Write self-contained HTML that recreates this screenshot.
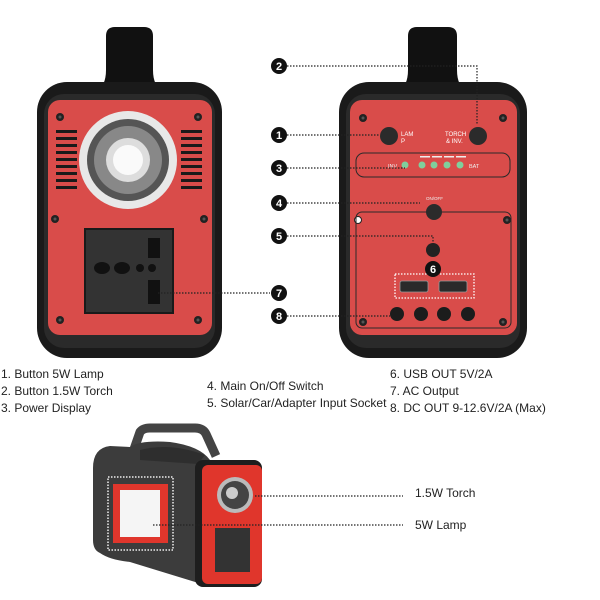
<!DOCTYPE html>
<html><head><meta charset="utf-8"><style>
html,body{margin:0;padding:0;background:#fff;width:600px;height:600px;overflow:hidden}
svg{display:block}
text{font-family:"Liberation Sans",sans-serif}
</style></head><body>
<svg width="600" height="600" viewBox="0 0 600 600" xmlns="http://www.w3.org/2000/svg">
<defs>
<g id="screw"><circle r="4" fill="#222"/><circle r="1.5" fill="#555"/></g>
</defs>
<!-- LEFT DEVICE -->
<path d="M96 92 Q106 86 106 70 V36 Q106 27 115 27 H144 Q153 27 153 36 V70 Q153 86 163 92 Z" fill="#111"/>
<rect x="37" y="82" width="185" height="276" rx="30" fill="#1a1a1a"/>
<rect x="44" y="94" width="171" height="254" rx="20" fill="#2a2a2a"/>
<rect x="48" y="100" width="164" height="235" rx="12" fill="#d94c4a"/>
<g fill="#1a1a1a">
<rect x="56" y="130" width="21" height="3"/><rect x="56" y="137" width="21" height="3"/><rect x="56" y="144" width="21" height="3"/><rect x="56" y="151" width="21" height="3"/><rect x="56" y="158" width="21" height="3"/><rect x="56" y="165" width="21" height="3"/><rect x="56" y="172" width="21" height="3"/><rect x="56" y="179" width="21" height="3"/><rect x="56" y="186" width="21" height="3"/>
<rect x="181" y="130" width="21" height="3"/><rect x="181" y="137" width="21" height="3"/><rect x="181" y="144" width="21" height="3"/><rect x="181" y="151" width="21" height="3"/><rect x="181" y="158" width="21" height="3"/><rect x="181" y="165" width="21" height="3"/><rect x="181" y="172" width="21" height="3"/><rect x="181" y="179" width="21" height="3"/><rect x="181" y="186" width="21" height="3"/>
</g>
<circle cx="128" cy="160" r="49" fill="#e8e8e8"/>
<circle cx="128" cy="160" r="41" fill="#555"/>
<circle cx="128" cy="160" r="34" fill="#888"/>
<circle cx="128" cy="160" r="22" fill="#ddd"/>
<circle cx="128" cy="160" r="15" fill="#fafafa"/>
<use href="#screw" x="60" y="117"/><use href="#screw" x="198" y="117"/><use href="#screw" x="55" y="219"/><use href="#screw" x="204" y="219"/><use href="#screw" x="60" y="320"/><use href="#screw" x="198" y="320"/>
<rect x="85" y="229" width="88" height="84" fill="#333" stroke="#1a1a1a" stroke-width="2"/>
<g fill="#111"><ellipse cx="102" cy="268" rx="8" ry="6"/><ellipse cx="122" cy="268" rx="8" ry="6"/><circle cx="140" cy="268" r="4"/><circle cx="152" cy="268" r="4"/><rect x="148" y="238" width="12" height="20"/><rect x="148" y="280" width="12" height="24"/></g>
<!-- RIGHT DEVICE -->
<path d="M398 92 Q408 86 408 70 V36 Q408 27 417 27 H448 Q457 27 457 36 V70 Q457 86 467 92 Z" fill="#111"/>
<rect x="339" y="82" width="188" height="276" rx="30" fill="#1a1a1a"/>
<rect x="346" y="94" width="174" height="254" rx="20" fill="#2a2a2a"/>
<rect x="350" y="100" width="167" height="235" rx="12" fill="#d94c4a"/>
<use href="#screw" x="363" y="118"/><use href="#screw" x="503" y="118"/><use href="#screw" x="363" y="322"/><use href="#screw" x="503" y="322"/><use href="#screw" x="507" y="220"/>
<circle cx="358" cy="220" r="3.5" fill="#fff" stroke="#222" stroke-width="1"/>
<circle cx="389" cy="136" r="9" fill="#2b2b2b"/><circle cx="478" cy="136" r="9" fill="#2b2b2b"/>
<text x="401" y="136" font-size="6" fill="#fff">LAM</text><text x="401" y="143" font-size="6" fill="#fff">P</text>
<text x="445" y="136" font-size="6" fill="#fff">TORCH</text><text x="446" y="143" font-size="6" fill="#fff">&amp; INV.</text>
<rect x="356" y="153" width="154" height="24" rx="8" fill="none" stroke="#2a2a2a" stroke-width="1"/>
<text x="388" y="168" font-size="5.5" fill="#eee">INV</text><text x="469" y="168" font-size="5.5" fill="#eee">BAT</text>
<g fill="#7fcf9c"><circle cx="405" cy="165" r="3.5"/><circle cx="422" cy="165" r="3.5"/><circle cx="434" cy="165" r="3.5"/><circle cx="447" cy="165" r="3.5"/><circle cx="460" cy="165" r="3.5"/></g>
<g fill="#eee"><rect x="420" y="156" width="10" height="1.5"/><rect x="432" y="156" width="10" height="1.5"/><rect x="444" y="156" width="10" height="1.5"/><rect x="456" y="156" width="10" height="1.5"/></g>
<text x="426" y="200" font-size="4.5" fill="#eee">ON/OFF</text>
<rect x="356" y="212" width="155" height="116" rx="6" fill="none" stroke="#2a2a2a" stroke-width="1"/>
<circle cx="434" cy="212" r="8" fill="#2b2b2b"/>
<circle cx="433" cy="250" r="7" fill="#222"/>
<rect x="395" y="274" width="79" height="24" fill="none" stroke="#fff" stroke-width="1.3" stroke-dasharray="1.5 1.5"/>
<rect x="400" y="281" width="28" height="11" rx="2" fill="#2a2a2a" stroke="#999" stroke-width="0.8"/>
<rect x="439" y="281" width="28" height="11" rx="2" fill="#2a2a2a" stroke="#999" stroke-width="0.8"/>
<g fill="#1c1c1c"><circle cx="397" cy="314" r="7"/><circle cx="421" cy="314" r="7"/><circle cx="444" cy="314" r="7"/><circle cx="468" cy="314" r="7"/></g>
<!-- callouts -->
<g stroke="#222" stroke-width="1.2" stroke-dasharray="1.5 1.5" fill="none">
<path d="M287 66 H477 V125"/>
<path d="M287 135 H380"/>
<path d="M287 168 H405"/>
<path d="M287 203 H420"/>
<path d="M287 236 H433 V244"/>
<path d="M158 293 H270"/>
<path d="M287 316 H390"/>
</g>
<g font-size="11" font-weight="bold" fill="#fff" text-anchor="middle">
<circle cx="279" cy="66" r="8" fill="#111"/><text x="279" y="70">2</text>
<circle cx="279" cy="135" r="8" fill="#111"/><text x="279" y="139">1</text>
<circle cx="279" cy="168" r="8" fill="#111"/><text x="279" y="172">3</text>
<circle cx="279" cy="203" r="8" fill="#111"/><text x="279" y="207">4</text>
<circle cx="279" cy="236" r="8" fill="#111"/><text x="279" y="240">5</text>
<circle cx="433" cy="269" r="8" fill="#111"/><text x="433" y="273">6</text>
<circle cx="279" cy="293" r="8" fill="#111"/><text x="279" y="297">7</text>
<circle cx="279" cy="316" r="8" fill="#111"/><text x="279" y="320">8</text>
</g>
<!-- legend -->
<g font-size="12" fill="#222">
<text x="1" y="378">1. Button 5W Lamp</text>
<text x="1" y="395">2. Button 1.5W Torch</text>
<text x="1" y="412">3. Power Display</text>
<text x="207" y="390">4. Main On/Off Switch</text>
<text x="207" y="407">5. Solar/Car/Adapter Input Socket</text>
<text x="390" y="378">6. USB OUT 5V/2A</text>
<text x="390" y="395">7. AC Output</text>
<text x="390" y="412">8. DC OUT 9-12.6V/2A (Max)</text>
</g>
<!-- BOTTOM DEVICE -->
<path d="M132 455 L140 432 Q143 428 150 428 L195 428 Q203 428 206 434 L216 456" fill="none" stroke="#444" stroke-width="9" stroke-linejoin="round"/>
<path d="M93 468 Q93 448 110 446 L130 447 Q140 440 170 442 Q200 446 210 460 L205 585 L130 562 Q110 560 100 553 Q93 550 93 540z" fill="#3c3c3c"/>
<path d="M140 450 Q170 442 205 455 L198 464 L140 460z" fill="#2e2e2e"/>
<rect x="195" y="460" width="67" height="127" rx="8" fill="#1e1e1e"/>
<rect x="202" y="465" width="60" height="119" rx="6" fill="#e0362c"/>
<rect x="108" y="477" width="65" height="73" fill="none" stroke="#eee" stroke-width="1.5" stroke-dasharray="1.5 1.5"/>
<rect x="113" y="484" width="55" height="59" fill="#e0362c"/>
<rect x="120" y="490" width="40" height="47" fill="#f5f5f5"/>
<circle cx="235" cy="495" r="18" fill="#bbb"/>
<circle cx="235" cy="495" r="14" fill="#444"/>
<circle cx="232" cy="493" r="6" fill="#ccc"/>
<rect x="215" y="528" width="35" height="44" fill="#333"/>
<g stroke="#222" stroke-width="1.2" stroke-dasharray="1.5 1.5" fill="none">
<path d="M255 496 H403"/><path d="M153 525 H403"/>
</g>
<g font-size="12" fill="#222"><text x="415" y="497">1.5W Torch</text><text x="415" y="529">5W Lamp</text></g>
</svg>
</body></html>
